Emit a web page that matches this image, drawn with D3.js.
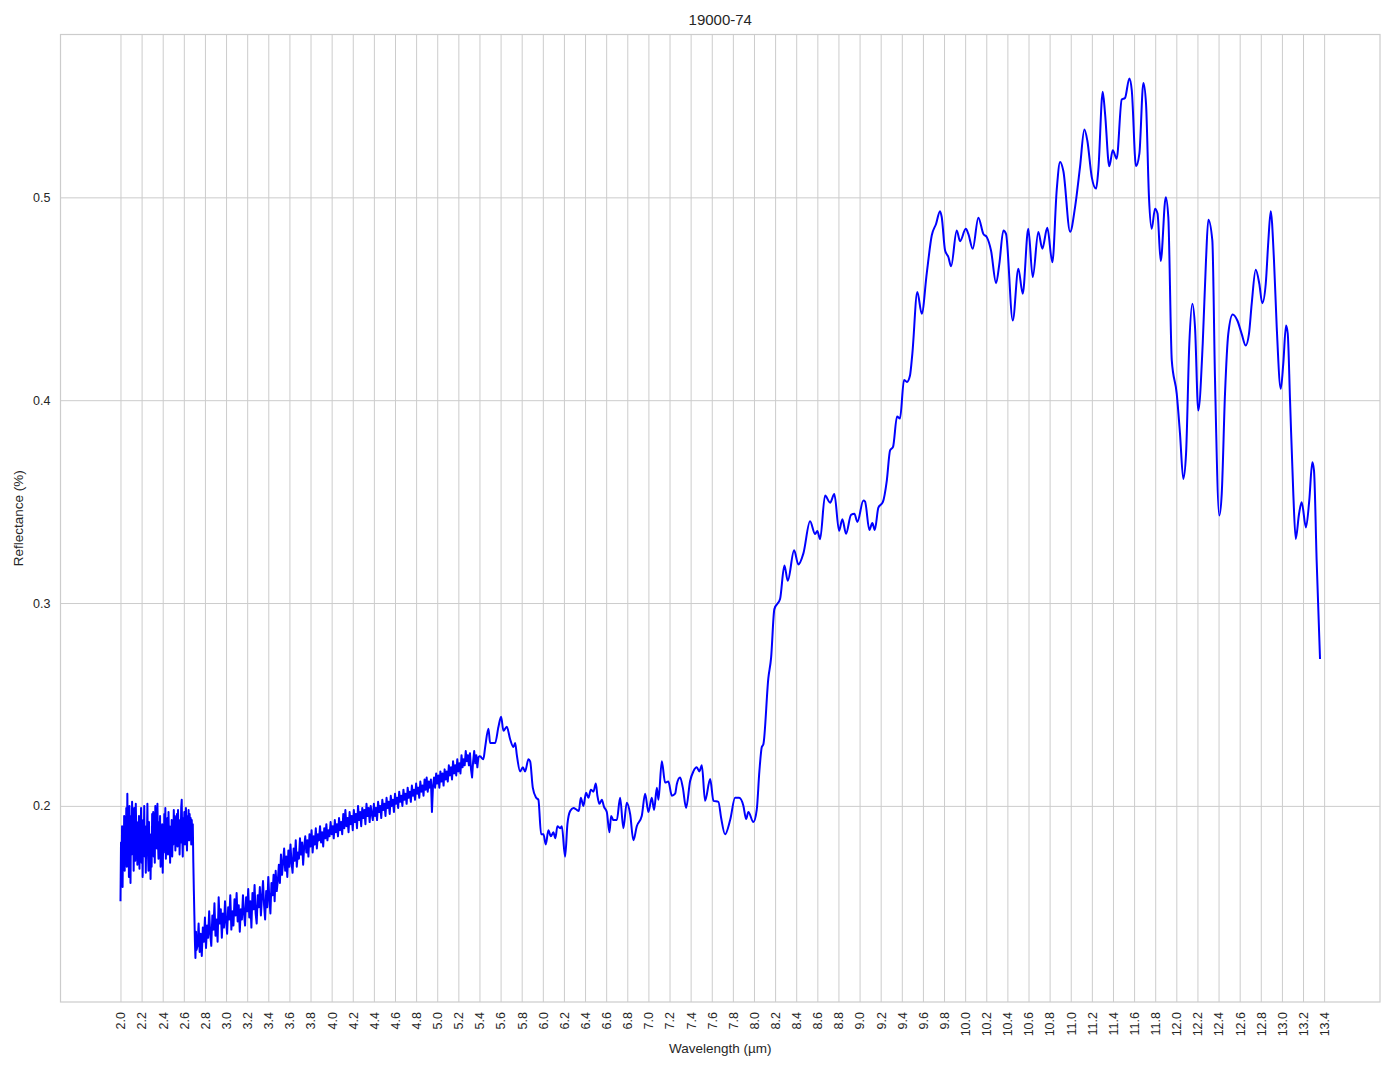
<!DOCTYPE html>
<html>
<head>
<meta charset="utf-8">
<script src="https://cdn.jsdelivr.net/npm/d3@7"></script>
<style>
  html, body { margin: 0; padding: 0; background: #ffffff; }
  svg { display: block; font-family: "Liberation Sans", Arial, sans-serif; }
</style>
</head>
<body>
<svg id="chart" width="1394" height="1069"></svg>
<script>
// ---------------- DATA ----------------
const chartTitle = "19000-74";
const xLabel = "Wavelength (µm)";
const yLabel = "Reflectance (%)";

// noisy region 2.0 – 2.72 µm  [wavelength µm, reflectance]
const noisyStart = [
[2.000,.153],[2.005,.182],[2.010,.165],[2.015,.190],[2.020,.160],[2.025,.186],[2.030,.172],[2.035,.195],
[2.040,.168],[2.045,.191],[2.050,.178],[2.055,.199],[2.060,.170],[2.065,.206],[2.070,.176],[2.075,.196],
[2.080,.165],[2.085,.200],[2.090,.183],[2.095,.162],[2.100,.195],[2.105,.176],[2.110,.202],[2.115,.180],
[2.120,.193],[2.125,.168],[2.130,.199],[2.135,.182],[2.140,.173],[2.145,.201],[2.150,.186],[2.155,.192],
[2.160,.171],[2.165,.188],[2.170,.178],[2.175,.195],[2.180,.169],[2.185,.190],[2.190,.182],[2.195,.199],
[2.200,.172],[2.205,.186],[2.210,.165],[2.215,.193],[2.220,.179],[2.225,.200],[2.230,.175],[2.235,.188],
[2.240,.167],[2.245,.190],[2.250,.183],[2.255,.201],[2.260,.177],[2.265,.168],[2.270,.192],[2.275,.174],
[2.280,.186],[2.285,.164],[2.290,.181],[2.295,.170],[2.300,.196],[2.305,.184],[2.310,.197],[2.315,.175],
[2.320,.189],[2.325,.172],[2.330,.200],[2.335,.185],[2.340,.194],[2.345,.179],[2.350,.201],[2.355,.183],
[2.360,.174],[2.365,.192],[2.370,.180],[2.375,.195],[2.380,.170],[2.385,.186],[2.390,.176],[2.395,.191],
[2.400,.167],[2.405,.184],[2.410,.177],[2.415,.196],[2.420,.186],[2.425,.199],[2.430,.174],[2.435,.188],
[2.440,.181],[2.445,.194],[2.450,.176],[2.455,.197],[2.460,.184],[2.465,.190],[2.470,.172],[2.475,.186],
[2.480,.179],[2.485,.193],[2.490,.175],[2.495,.187],[2.500,.181],[2.505,.198],[2.510,.185],[2.515,.195],
[2.520,.178],[2.525,.191],[2.530,.183],[2.535,.196],[2.540,.180],[2.545,.198],[2.550,.186],[2.555,.193],
[2.560,.176],[2.565,.190],[2.570,.182],[2.575,.199],[2.580,.203],[2.585,.184],[2.590,.175],[2.595,.194],
[2.600,.186],[2.605,.197],[2.610,.181],[2.615,.192],[2.620,.199],[2.625,.185],[2.630,.178],[2.635,.195],
[2.640,.187],[2.645,.198],[2.650,.183],[2.655,.196],[2.660,.189],[2.665,.194],[2.670,.181],[2.675,.193],
[2.680,.186],[2.685,.191],[2.690,.172],[2.695,.158],[2.700,.146],[2.705,.133],[2.710,.125],[2.715,.138],
[2.720,.129]
];

// noisy rising region 2.73 – 5.39 µm
const noisyRise = [
[2.73,.131],[2.74,.142],[2.75,.128],[2.76,.137],[2.77,.126],[2.78,.140],[2.79,.133],[2.80,.145],
[2.81,.130],[2.82,.141],[2.83,.135],[2.84,.148],[2.85,.137],[2.86,.131],[2.87,.146],[2.88,.139],
[2.89,.152],[2.90,.136],[2.91,.144],[2.92,.133],[2.93,.155],[2.94,.142],[2.95,.149],[2.96,.135],
[2.97,.147],[2.98,.140],[2.99,.153],[3.00,.143],[3.01,.137],[3.02,.150],[3.03,.144],[3.04,.156],
[3.05,.139],[3.06,.148],[3.07,.141],[3.08,.154],[3.09,.146],[3.10,.157],[3.11,.143],[3.12,.151],
[3.13,.138],[3.14,.149],[3.15,.144],[3.16,.156],[3.17,.147],[3.18,.141],[3.19,.155],[3.20,.148],
[3.21,.159],[3.22,.145],[3.23,.153],[3.24,.140],[3.25,.157],[3.26,.149],[3.27,.161],[3.28,.147],
[3.29,.142],[3.30,.156],[3.31,.150],[3.32,.160],[3.33,.146],[3.34,.155],[3.35,.163],[3.36,.151],
[3.37,.144],[3.38,.158],[3.39,.150],[3.40,.165],[3.41,.154],[3.42,.147],[3.43,.162],[3.44,.156],
[3.45,.166],[3.46,.153],[3.47,.168],[3.48,.158],[3.49,.163],[3.50,.171],[3.51,.162],[3.52,.176],
[3.53,.166],[3.54,.172],[3.55,.179],[3.56,.168],[3.57,.175],[3.58,.165],[3.59,.178],[3.60,.170],
[3.61,.181],[3.62,.172],[3.63,.167],[3.64,.179],[3.65,.173],[3.66,.183],[3.67,.170],[3.68,.177],
[3.69,.174],[3.70,.184],[3.71,.176],[3.72,.182],[3.73,.171],[3.74,.180],[3.75,.185],[3.76,.177],
[3.77,.183],[3.78,.175],[3.79,.186],[3.80,.180],[3.81,.188],[3.82,.177],[3.83,.185],[3.84,.181],
[3.85,.189],[3.86,.179],[3.87,.186],[3.88,.183],[3.89,.190],[3.90,.182],[3.91,.187],[3.92,.180],
[3.93,.189],[3.94,.184],[3.95,.191],[3.96,.183],[3.97,.188],[3.98,.185],[3.99,.192],[4.00,.186],
[4.01,.190],[4.02,.184],[4.03,.193],[4.04,.187],[4.05,.191],[4.06,.185],[4.07,.194],[4.08,.188],
[4.09,.192],[4.10,.186],[4.11,.196],[4.12,.189],[4.13,.198],[4.14,.190],[4.15,.194],[4.16,.187],
[4.17,.197],[4.18,.191],[4.19,.195],[4.20,.188],[4.21,.198],[4.22,.192],[4.23,.196],[4.24,.189],
[4.25,.200],[4.26,.193],[4.27,.197],[4.28,.190],[4.29,.199],[4.30,.194],[4.31,.198],[4.32,.191],
[4.33,.201],[4.34,.195],[4.35,.199],[4.36,.192],[4.37,.200],[4.38,.196],[4.39,.193],[4.40,.201],
[4.41,.195],[4.42,.199],[4.43,.193],[4.44,.202],[4.45,.197],[4.46,.200],[4.47,.194],[4.48,.203],
[4.49,.198],[4.50,.201],[4.51,.195],[4.52,.204],[4.53,.199],[4.54,.202],[4.55,.196],[4.56,.205],
[4.57,.200],[4.58,.203],[4.59,.197],[4.60,.206],[4.61,.201],[4.62,.204],[4.63,.199],[4.64,.207],
[4.65,.202],[4.66,.205],[4.67,.200],[4.68,.208],[4.69,.203],[4.70,.206],[4.71,.201],[4.72,.209],
[4.73,.204],[4.74,.207],[4.75,.202],[4.76,.210],[4.77,.205],[4.78,.208],[4.79,.203],[4.80,.211],
[4.81,.206],[4.82,.209],[4.83,.204],[4.84,.212],[4.85,.207],[4.86,.210],[4.87,.205],[4.88,.213],
[4.89,.208],[4.90,.214],[4.91,.207],[4.92,.212],[4.93,.209],[4.94,.213],[4.95,.197],[4.96,.210],
[4.97,.214],[4.98,.209],[4.99,.216],[5.00,.211],[5.01,.215],[5.02,.209],[5.03,.217],[5.04,.212],
[5.05,.216],[5.06,.210],[5.07,.218],[5.08,.213],[5.09,.217],[5.10,.212],[5.11,.220],[5.12,.215],
[5.13,.219],[5.14,.213],[5.15,.222],[5.16,.216],[5.17,.220],[5.18,.215],[5.19,.223],[5.20,.217],
[5.21,.221],[5.22,.216],[5.23,.225],[5.24,.219],[5.25,.223],[5.26,.220],[5.27,.227],[5.28,.222],
[5.29,.225],[5.30,.220],[5.31,.226],[5.32,.218],[5.33,.214],[5.34,.222],[5.35,.227],[5.36,.221],
[5.37,.225],[5.38,.219],[5.39,.224]
];

// band region 5.4 – 8.07 µm
const bandRegion = [
[5.406,0.2247],[5.437,0.223],[5.454,0.229],[5.485,0.238],[5.501,0.231],[5.548,0.231],[5.580,0.239],[5.605,0.244],
[5.627,0.237],[5.659,0.239],[5.690,0.233],[5.722,0.229],[5.738,0.231],[5.754,0.225],[5.785,0.217],[5.811,0.219],
[5.832,0.217],[5.864,0.223],[5.880,0.222],[5.905,0.209],[5.937,0.204],[5.958,0.203],[5.984,0.186],[6.006,0.186],
[6.028,0.181],[6.053,0.188],[6.076,0.185],[6.100,0.187],[6.119,0.184],[6.138,0.190],[6.164,0.189],[6.180,0.190],
[6.211,0.175],[6.233,0.191],[6.259,0.1975],[6.290,0.199],[6.322,0.198],[6.341,0.1975],[6.360,0.204],[6.384,0.200],
[6.410,0.2065],[6.432,0.204],[6.455,0.208],[6.479,0.207],[6.502,0.211],[6.517,0.205],[6.536,0.201],[6.559,0.203],
[6.580,0.1995],[6.606,0.197],[6.631,0.187],[6.647,0.195],[6.669,0.193],[6.701,0.193],[6.732,0.204],[6.763,0.189],
[6.795,0.2016],[6.827,0.196],[6.858,0.183],[6.890,0.190],[6.937,0.195],[6.969,0.206],[7.000,0.197],[7.032,0.204],
[7.054,0.198],[7.080,0.209],[7.095,0.203],[7.127,0.222],[7.158,0.2115],[7.189,0.212],[7.222,0.205],[7.253,0.206],
[7.269,0.2107],[7.300,0.214],[7.326,0.209],[7.357,0.199],[7.395,0.2123],[7.426,0.217],[7.458,0.219],[7.483,0.217],
[7.506,0.220],[7.537,0.2025],[7.585,0.2132],[7.616,0.2025],[7.663,0.202],[7.689,0.194],[7.726,0.186],[7.774,0.193],
[7.821,0.204],[7.859,0.204],[7.900,0.200],[7.925,0.1935],[7.947,0.197],[7.994,0.192],[8.026,0.198],[8.051,0.217],
[8.074,0.229]
];

// upper region 8.09 – 13.36 µm
const upperRegion = [
[8.089,0.2304],[8.136,0.263],[8.162,0.273],[8.193,0.297],[8.247,0.302],[8.288,0.3185],[8.320,0.311],[8.380,0.326],
[8.420,0.319],[8.468,0.3245],[8.531,0.3403],[8.579,0.334],[8.600,0.3355],[8.626,0.3315],[8.673,0.353],[8.721,0.3495],
[8.761,0.3537],[8.806,0.3356],[8.837,0.3413],[8.872,0.3342],[8.919,0.3435],[8.951,0.344],[8.979,0.340],[9.036,0.3505],
[9.052,0.350],[9.093,0.336],[9.121,0.3394],[9.144,0.336],[9.178,0.347],[9.220,0.3497],[9.258,0.3604],[9.289,0.3752],
[9.317,0.377],[9.355,0.392],[9.383,0.391],[9.421,0.410],[9.449,0.409],[9.477,0.412],[9.500,0.423],[9.547,0.4533],
[9.589,0.4426],[9.636,0.4624],[9.684,0.4813],[9.725,0.487],[9.762,0.4932],[9.778,0.4903],[9.810,0.4738],[9.841,0.4706],
[9.867,0.466],[9.920,0.4837],[9.952,0.4784],[10.006,0.4845],[10.030,0.482],[10.072,0.4747],[10.125,0.490],[10.172,0.482],
[10.205,0.4804],[10.245,0.4738],[10.293,0.4577],[10.324,0.4673],[10.362,0.4837],[10.387,0.482],[10.451,0.4393],[10.504,0.4648],
[10.545,0.4525],[10.598,0.4845],[10.640,0.4607],[10.693,0.4829],[10.731,0.4747],[10.778,0.485],[10.826,0.468],[10.867,0.5035],
[10.899,0.5174],[10.930,0.513],[10.994,0.483],[11.041,0.4952],[11.088,0.515],[11.129,0.5334],[11.157,0.528],[11.199,0.510],
[11.240,0.5043],[11.261,0.5133],[11.303,0.552],[11.325,0.5413],[11.365,0.5153],[11.398,0.5232],[11.435,0.519],[11.483,0.5482],
[11.514,0.549],[11.555,0.5586],[11.578,0.5528],[11.618,0.5153],[11.650,0.5215],[11.688,0.5564],[11.713,0.5462],[11.741,0.500],
[11.767,0.4845],[11.798,0.4944],[11.822,0.492],[11.852,0.4686],[11.900,0.5001],[11.924,0.4903],[11.957,0.4196],[12.004,0.4031],
[12.035,0.3834],[12.066,0.3612],[12.092,0.3735],[12.123,0.4278],[12.152,0.4476],[12.177,0.436],[12.208,0.3949],[12.250,0.4278],
[12.281,0.4689],[12.303,0.489],[12.341,0.4788],[12.366,0.4113],[12.407,0.3431],[12.430,0.3538],[12.461,0.4031],[12.492,0.4327],
[12.534,0.4423],[12.578,0.4393],[12.619,0.4327],[12.657,0.427],[12.688,0.4327],[12.714,0.4476],[12.752,0.4643],[12.786,0.4574],
[12.814,0.4478],[12.847,0.4574],[12.871,0.478],[12.894,0.4932],[12.925,0.4689],[12.951,0.436],[12.989,0.4056],[13.013,0.418],
[13.039,0.4368],[13.055,0.433],[13.077,0.400],[13.108,0.3538],[13.131,0.3316],[13.162,0.3439],[13.187,0.3497],[13.228,0.3373],
[13.259,0.3505],[13.288,0.3694],[13.304,0.3653],[13.329,0.321],[13.361,0.2724]
];

const xTicks = [2.0,2.2,2.4,2.6,2.8,3.0,3.2,3.4,3.6,3.8,4.0,4.2,4.4,4.6,4.8,5.0,5.2,5.4,5.6,5.8,
  6.0,6.2,6.4,6.6,6.8,7.0,7.2,7.4,7.6,7.8,8.0,8.2,8.4,8.6,8.8,9.0,9.2,9.4,9.6,9.8,
  10.0,10.2,10.4,10.6,10.8,11.0,11.2,11.4,11.6,11.8,12.0,12.2,12.4,12.6,12.8,13.0,13.2,13.4];
const yTicks = [0.2, 0.3, 0.4, 0.5];

// ---------------- CHART ----------------
const noisyPart = noisyStart.concat(noisyRise, [bandRegion[0]]);
const smoothPart = bandRegion.concat(upperRegion);
const spectrum = noisyStart.concat(noisyRise, bandRegion, upperRegion);

const W = 1394, H = 1069;
const margin = { left: 60.5, top: 34.5, right: 14, bottom: 67 };
const plotW = W - margin.left - margin.right;
const plotH = H - margin.top - margin.bottom;

const xExt = d3.extent(spectrum, d => d[0]);
const yExt = d3.extent(spectrum, d => d[1]);
const xPad = (xExt[1] - xExt[0]) * 0.05;
const yPad = (yExt[1] - yExt[0]) * 0.05;

const x = d3.scaleLinear().domain([xExt[0] - xPad, xExt[1] + xPad]).range([0, plotW]);
const y = d3.scaleLinear().domain([yExt[0] - yPad, yExt[1] + yPad]).range([plotH, 0]);

const svg = d3.select("#chart");
svg.append("rect").attr("width", W).attr("height", H).attr("fill", "#ffffff");

const g = svg.append("g").attr("transform", `translate(${margin.left},${margin.top})`);

const gridColor = "#cccccc";
const textColor = "#262626";

// x axis with gridlines
const xAxis = d3.axisBottom(x).tickValues(xTicks).tickFormat(d3.format(".1f")).tickSize(-plotH).tickPadding(0);
const gx = g.append("g").attr("transform", `translate(0,${plotH})`).call(xAxis);
gx.select(".domain").remove();
gx.selectAll(".tick line").attr("stroke", gridColor).attr("stroke-width", 1);
gx.selectAll(".tick text")
  .attr("transform", "rotate(-90)")
  .attr("x", -10)
  .attr("y", 0)
  .attr("dy", "0.35em")
  .attr("text-anchor", "end")
  .attr("fill", textColor)
  .style("font-size", "12.5px")
  .style("font-family", '"Liberation Sans", Arial, sans-serif');

// y axis with gridlines
const yAxis = d3.axisLeft(y).tickValues(yTicks).tickFormat(d3.format(".1f")).tickSize(-plotW).tickPadding(10);
const gy = g.append("g").call(yAxis);
gy.select(".domain").remove();
gy.selectAll(".tick line").attr("stroke", gridColor).attr("stroke-width", 1);
gy.selectAll(".tick text")
  .attr("fill", textColor)
  .style("font-size", "12.5px")
  .style("font-family", '"Liberation Sans", Arial, sans-serif');

// frame
g.append("rect")
  .attr("x", 0).attr("y", 0).attr("width", plotW).attr("height", plotH)
  .attr("fill", "none").attr("stroke", gridColor).attr("stroke-width", 1.2);

// spectrum line: noisy part drawn straight, band part smooth
const lineNoisy = d3.line().x(d => x(d[0])).y(d => y(d[1])).curve(d3.curveLinear);
const lineSmooth = d3.line().x(d => x(d[0])).y(d => y(d[1])).curve(d3.curveMonotoneX);

g.append("path")
  .datum(noisyPart)
  .attr("fill", "none")
  .attr("stroke", "#0000ff")
  .attr("stroke-width", 2)
  .attr("stroke-linejoin", "round")
  .attr("d", lineNoisy);

g.append("path")
  .datum(smoothPart)
  .attr("fill", "none")
  .attr("stroke", "#0000ff")
  .attr("stroke-width", 2)
  .attr("stroke-linejoin", "round")
  .attr("d", lineSmooth);

// title
svg.append("text")
  .attr("x", margin.left + plotW / 2)
  .attr("y", 20)
  .attr("dy", "0.35em")
  .attr("text-anchor", "middle")
  .attr("fill", textColor)
  .style("font-size", "15px")
  .text(chartTitle);

// x label
svg.append("text")
  .attr("x", margin.left + plotW / 2)
  .attr("y", 1048)
  .attr("dy", "0.35em")
  .attr("text-anchor", "middle")
  .attr("fill", textColor)
  .style("font-size", "13.5px")
  .text(xLabel);

// y label
svg.append("text")
  .attr("transform", `translate(18,${margin.top + plotH / 2}) rotate(-90)`)
  .attr("dy", "0.35em")
  .attr("text-anchor", "middle")
  .attr("fill", textColor)
  .style("font-size", "13.5px")
  .text(yLabel);
</script>
</body>
</html>
